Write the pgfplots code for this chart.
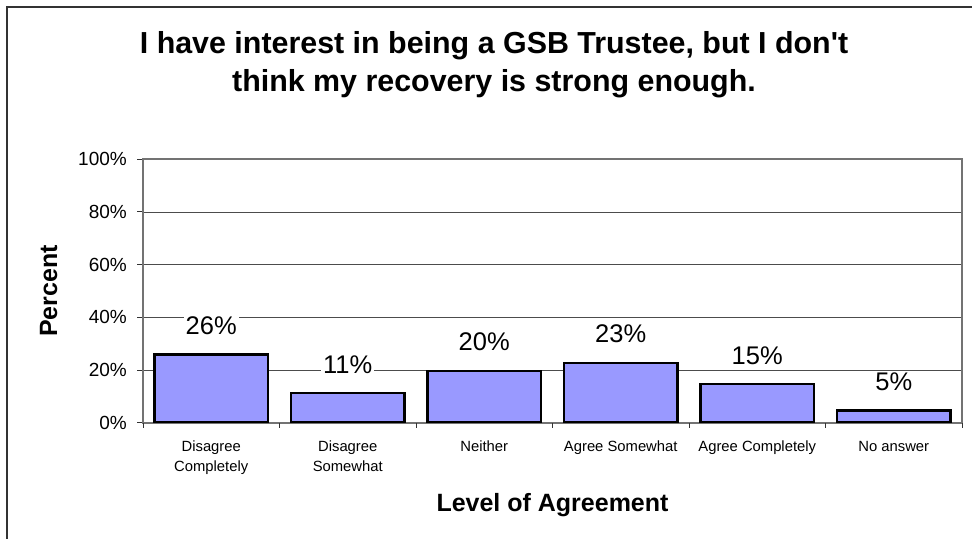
\documentclass[border=0pt]{standalone}
\usepackage{pgfplots}
\pgfplotsset{compat=1.18}
\usepackage{fontspec}
\setmainfont{Liberation Sans}
\definecolor{barblue}{HTML}{9999FF}
\begin{document}
\begin{tikzpicture}
\useasboundingbox (0,0) rectangle (972bp,539bp);
\draw[black!80, line width=2bp] (7bp,0) -- (7bp,532bp) -- (972bp,532bp);
\node[font=\fontsize{30.4bp}{36bp}\selectfont\bfseries, anchor=base, inner sep=0pt] at (494bp,485.7bp) {I have interest in being a GSB Trustee, but I don\textquotesingle t};
\node[font=\fontsize{30.4bp}{36bp}\selectfont\bfseries, anchor=base, inner sep=0pt] at (494bp,447.3bp) {think my recovery is strong enough.};
\begin{axis}[
  at={(143bp,116.3bp)}, anchor=south west,
  scale only axis, width=819bp, height=263.4bp,
  xmin=-0.5, xmax=5.5, ymin=0, ymax=100,
  ybar, bar width=0.835,
  tick pos=left, tick align=outside,
  axis line style={draw=black!55, line width=2bp},
  ymajorgrids, grid style={black!70, line width=0.8bp},
  ytick={0,20,40,60,80,100},
  yticklabels={0\%,20\%,40\%,60\%,80\%,100\%},
  yticklabel style={font=\fontsize{19bp}{22bp}\selectfont, anchor=east, inner sep=0pt, xshift=-10bp},
  ytick style={draw=black!80, line width=1bp},
  major tick length=6bp,
  xtick={0,1,2,3,4,5},
  xticklabels={{Disagree\\Completely},{Disagree\\Somewhat},{Neither},{Agree Somewhat},{Agree Completely},{No answer}},
  xticklabel style={align=center, font=\fontsize{14.8bp}{20bp}\selectfont, anchor=north, inner sep=0pt, yshift=-12bp},
  xtick style={draw=none},
  extra x ticks={-0.5,0.5,1.5,2.5,3.5,4.5,5.5},
  extra x tick labels={,,,,,,},
  extra x tick style={grid=none, major tick length=5bp, xtick style={draw=black!80, line width=1bp}},
  xlabel={Level of Agreement},
  ylabel={Percent},
  label style={font=\fontsize{25bp}{30bp}\selectfont\bfseries},
  xlabel style={at={(axis description cs:0.5,-0.339)}, anchor=base},
  ylabel style={at={(axis description cs:-0.105,0.5)}, anchor=base},
  /pgf/number format/assume math mode=true,
  nodes near coords={\pgfmathprintnumber[fixed,precision=0]{\pgfplotspointmeta}\%},
  nodes near coords style={font=\fontsize{25.5bp}{30bp}\selectfont, fill=white, anchor=base, yshift=20bp, inner sep=2bp, text=black},
]
\addplot[fill=barblue, draw=black, line width=2.5bp] coordinates {(0,25.9) (1,11.2) (2,19.7) (3,22.7) (4,14.6) (5,4.6)};
\end{axis}
\end{tikzpicture}
\end{document}
